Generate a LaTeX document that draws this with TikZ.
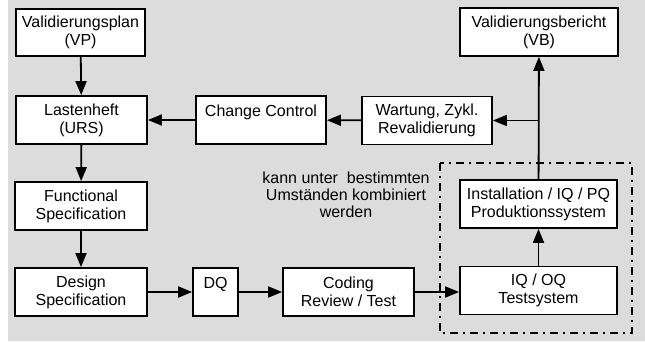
\documentclass[tikz,border=0pt]{standalone}
\usepackage{fontspec}
\setmainfont{Liberation Sans}
\usetikzlibrary{arrows.meta}
\definecolor{bggray}{RGB}{220,220,220}
\tikzset{
  box/.style={draw, fill=white, line width=1.8pt, align=center, inner sep=0pt,
    minimum height=48pt, font=\fontsize{16}{18}\selectfont},
  arr/.style={line width=1.8pt, -{Triangle[length=14pt,width=11pt]}}
}

\begin{document}
\begin{tikzpicture}[x=1pt,y=-1pt]
\useasboundingbox (0,0) rectangle (645,341);
\fill[bggray] (8,0) rectangle (645,341);
% left column
\node[box, minimum width=129pt, minimum height=47pt] (vp) at (80.5,32.5) {Validierungsplan\\(VP)};
\node[box, minimum width=131pt] (urs) at (81.5,120) {Lastenheft\\(URS)};
\node[box, minimum width=132pt] (fs) at (81,206) {Functional\\Specification};
\node[box, minimum width=132pt] (ds) at (81,292) {Design\\Specification};
% bottom row
\node[box, minimum width=45pt] (dq) at (215.5,292) {DQ\\\mbox{}};
\node[box, minimum width=131pt] (cod) at (348.5,292) {Coding\\Review / Test};
\node[box, minimum width=157pt] (iqoq) at (538.5,290.5) {IQ / OQ\\Testsystem};
\node[box, minimum width=157pt] (inst) at (538.5,204) {Installation / IQ / PQ\\Produktionssystem};
% top row
\node[box, minimum width=158pt] (vb) at (539,32) {Validierungsbericht\\(VB)};
\node[box, minimum width=130pt] (wart) at (427,120.5) {Wartung, Zykl.\\Revalidierung};
\node[box, minimum width=130pt] (cc) at (261,120) {Change Control\\\mbox{}};
% dash-dot frame
\draw[line width=1.8pt, dash pattern=on 8pt off 5pt on 2pt off 5pt] (440,163) rectangle (632,333);
\node[align=center, font=\fontsize{16}{17}\selectfont] (note) at (346,195)
  {kann unter\ \ bestimmten\\Umständen kombiniert\\werden};
% connectors
\draw[arr] (vp) -- (urs);
\draw[arr] (urs) -- (fs);
\draw[arr] (fs) -- (ds);
\draw[arr] (ds) -- (dq);
\draw[arr] (dq) -- (cod);
\draw[arr] (cod.east) -- (iqoq.west |- cod.east);
\draw[arr] (iqoq) -- (inst);
\draw[arr] (inst) -- (vb);
\coordinate (split) at (vb.south |- wart.east);
\draw[arr] (split) -- (wart.east);
\draw[arr] (wart) -- (cc);
\draw[arr] (cc.west) -- (urs.east |- cc.west);
\end{tikzpicture}
\end{document}
